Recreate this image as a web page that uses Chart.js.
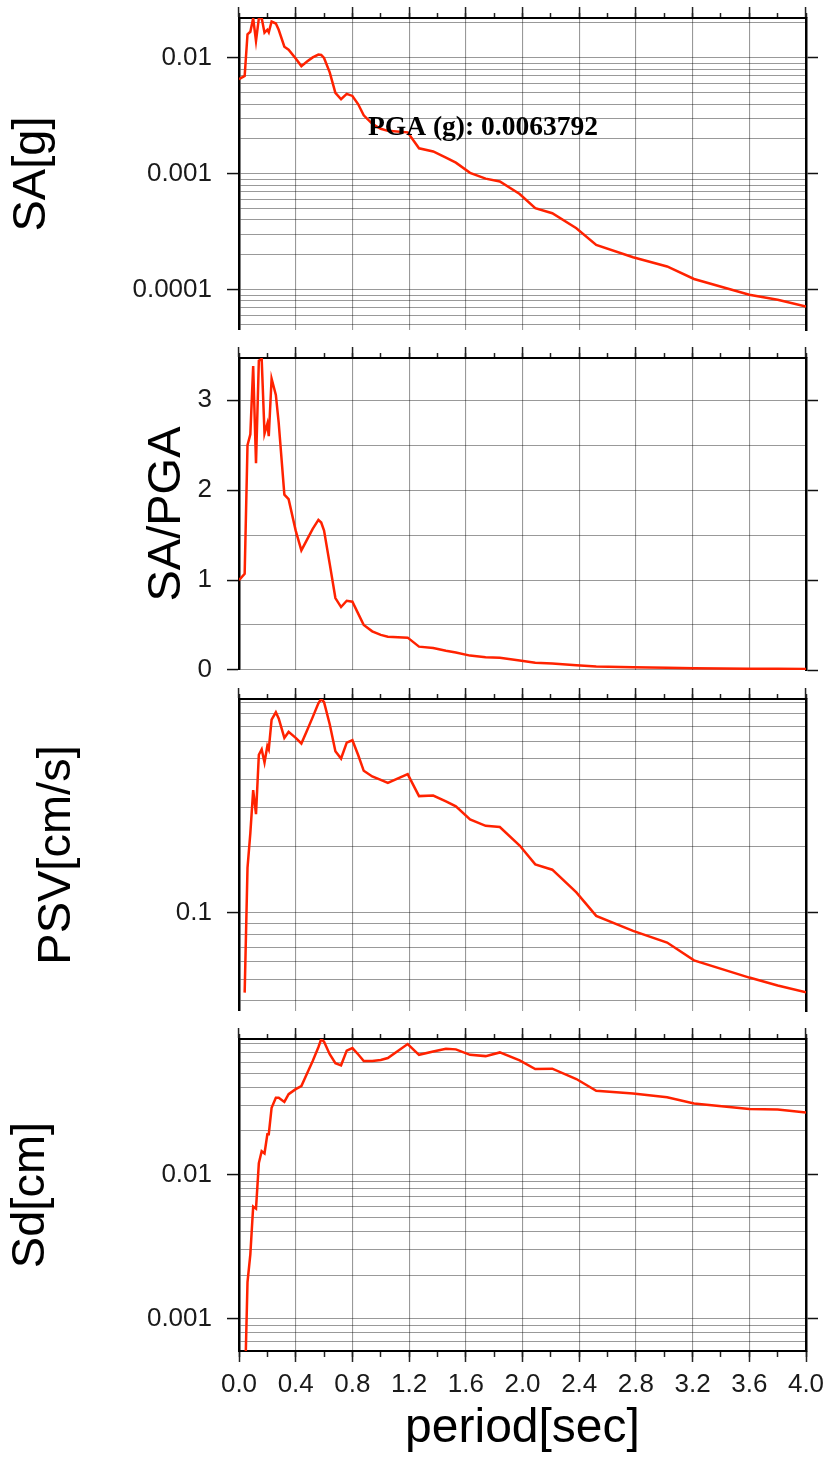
<!DOCTYPE html>
<html>
<head>
<meta charset="utf-8">
<script src="https://cdn.jsdelivr.net/npm/chart.js@4.4.1/dist/chart.umd.min.js"></script>
<style>
  body { margin: 0; background: #fff; width: 826px; height: 1459px; position: relative; overflow: hidden; }
  canvas { position: absolute; left: 0; }
</style>
</head>
<body>
<canvas id="c1" width="826" height="340" style="top:0px"></canvas>
<canvas id="c2" width="826" height="340" style="top:340px"></canvas>
<canvas id="c3" width="826" height="340" style="top:681px"></canvas>
<canvas id="c4" width="826" height="438" style="top:1021px"></canvas>
<script>
// periodos (s) y valores
const periods = [0, 0.04, 0.06, 0.08, 0.10, 0.12, 0.14, 0.16, 0.18, 0.20, 0.21, 0.23, 0.26, 0.28, 0.32, 0.35,
  0.40, 0.44, 0.48, 0.52, 0.56, 0.58, 0.60, 0.64, 0.68, 0.72, 0.76, 0.80, 0.84, 0.88, 0.94, 1.00, 1.05,
  1.19, 1.27, 1.37, 1.46, 1.53, 1.63, 1.74, 1.84, 1.98, 2.09, 2.21, 2.38, 2.52, 2.78, 3.02, 3.21, 3.60, 3.80, 4.00];

const saValues = [0.00655, 0.0070, 0.0160, 0.0168, 0.0220, 0.0140, 0.0219, 0.0221, 0.0165, 0.0175, 0.0166, 0.0206,
  0.0198, 0.0175, 0.0125, 0.0118, 0.0099, 0.0085, 0.0093, 0.0101, 0.0107, 0.0106, 0.0100, 0.0075, 0.0050, 0.0044,
  0.0049, 0.0047, 0.0040, 0.0032, 0.0027, 0.00245, 0.00235, 0.00228, 0.00166, 0.00156, 0.00138, 0.00125, 0.00102,
  0.00091, 0.00086, 0.00067, 0.000506, 0.000458, 0.00034, 0.000244, 0.000191, 0.000159, 0.000124, 0.0000906,
  0.000082, 0.0000718];

const saPgaValues = [1.0, 1.07, 2.5, 2.62, 3.38, 2.30, 3.44, 3.46, 2.63, 2.74, 2.60, 3.24, 3.06, 2.75, 1.95, 1.90,
  1.55, 1.33, 1.45, 1.57, 1.67, 1.64, 1.55, 1.18, 0.80, 0.70, 0.77, 0.76, 0.63, 0.50, 0.43, 0.39, 0.37, 0.36, 0.26,
  0.245, 0.215, 0.195, 0.16, 0.143, 0.135, 0.105, 0.08, 0.072, 0.053, 0.038, 0.030, 0.025, 0.019, 0.014, 0.013, 0.011];

const psvValues = [null, 0.0436, 0.16, 0.23, 0.36, 0.28, 0.52, 0.55, 0.48, 0.57, 0.55, 0.75, 0.81, 0.76, 0.62, 0.66,
  0.62, 0.585, 0.67, 0.77, 0.89, 0.93, 0.90, 0.715, 0.54, 0.50, 0.59, 0.605, 0.52, 0.44, 0.415, 0.40, 0.388, 0.425,
  0.338, 0.34, 0.32, 0.304, 0.265, 0.248, 0.245, 0.202, 0.166, 0.157, 0.124, 0.097, 0.083, 0.0735, 0.061, 0.051,
  0.047, 0.0438];

const sdValues = [null, 0.00028, 0.0018, 0.0028, 0.0060, 0.0058, 0.0120, 0.0145, 0.0140, 0.019, 0.019, 0.029, 0.034,
  0.034, 0.0318, 0.036, 0.039, 0.041, 0.050, 0.061, 0.076, 0.0865, 0.083, 0.068, 0.059, 0.057, 0.072, 0.075, 0.068,
  0.061, 0.061, 0.062, 0.064, 0.080, 0.0674, 0.0711, 0.0743, 0.0735, 0.0674, 0.066, 0.070, 0.0617, 0.0537, 0.054,
  0.0458, 0.038, 0.0363, 0.0342, 0.031, 0.0284, 0.0282, 0.0269];

// ticks
const xTicks = [0, 0.4, 0.8, 1.2, 1.6, 2.0, 2.4, 2.8, 3.2, 3.6, 4.0];
const xTickLabels = ['0.0', '0.4', '0.8', '1.2', '1.6', '2.0', '2.4', '2.8', '3.2', '3.6', '4.0'];
const xMinorTicks = [0, 0.2, 0.4, 0.6, 0.8, 1.0, 1.2, 1.4, 1.6, 1.8, 2.0, 2.2, 2.4, 2.6, 2.8, 3.0, 3.2, 3.4, 3.6, 3.8, 4.0];
const saTickLabels = ['0.01', '0.001', '0.0001'];
const saPgaGrid = [0, 0.5, 1, 1.5, 2, 2.5, 3];
const saPgaTickLabels = ['0', '1', '2', '3'];
const psvTickLabels = ['0.1'];
const sdTickLabels = ['0.01', '0.001'];
const pgaText = 'PGA (g): 0.0063792';

Chart.defaults.font.family = '"Liberation Sans", Arial, sans-serif';
const gridColor = 'rgba(0,0,0,0.4)';
const lineColor = '#ff2200';

// rejilla logaritmica 1..9 por decada
function logGrid(min, max) {
  const vals = [];
  for (let e = Math.floor(Math.log10(min)); e <= Math.ceil(Math.log10(max)); e++) {
    for (let m = 1; m <= 9; m++) {
      const v = m * Math.pow(10, e);
      if (v >= min && v <= max) vals.push(v);
    }
  }
  return vals;
}

function labelFor(labels, v) {
  const hit = labels.find(l => Math.abs(Number(l) - v) <= Math.abs(v) * 1e-6 + 1e-12);
  return hit === undefined ? '' : hit;
}

function setTicks(vals) {
  return s => { s.ticks = vals.map(v => ({ value: v })); };
}

function xAxis(position, major, height, weight, extra) {
  return Object.assign({
    type: 'linear', position: position, min: 0, max: 4, weight: weight,
    afterBuildTicks: setTicks(major ? xTicks : xMinorTicks),
    afterFit: s => { s.height = height; s.paddingLeft = 0; s.paddingRight = 0; },
    ticks: { display: false },
    grid: { drawOnChartArea: false, tickLength: major ? 11 : 5, tickColor: '#222', tickWidth: 1.5 },
    border: { display: false }
  }, extra || {});
}

function makePanel(id, values, cfg) {
  const yGrid = cfg.log ? logGrid(cfg.min, cfg.max) : cfg.grid;
  const tickCol = ctx => labelFor(cfg.labels, ctx.tick.value) !== '' ? '#111' : 'rgba(0,0,0,0)';
  const yBase = {
    type: cfg.log ? 'logarithmic' : 'linear', min: cfg.min, max: cfg.max,
    afterBuildTicks: setTicks(yGrid)
  };
  const scales = {
    x: xAxis('top', true, 18, 1, {
      grid: { drawOnChartArea: true, color: gridColor, lineWidth: 1.1, tickLength: 11, tickColor: '#222', tickWidth: 1.5 },
      border: { display: true, color: '#000', width: 2 }
    }),
    xm: xAxis('top', false, 0, 0),
    y: Object.assign({}, yBase, {
      position: 'left',
      afterFit: s => { s.width = 239; s.paddingTop = 0; s.paddingBottom = 0; },
      ticks: {
        autoSkip: false, padding: 15, color: '#1a1a1a', font: { size: 26 },
        callback: v => labelFor(cfg.labels, v)
      },
      grid: { color: gridColor, lineWidth: 1.1, tickLength: 12, tickColor: tickCol, tickWidth: 1.5 },
      border: { color: '#000', width: 2.5 },
      title: { display: true, text: cfg.title, color: '#000', font: { size: 47 }, padding: { top: cfg.titlePad, bottom: 0 } }
    }),
    yr: Object.assign({}, yBase, {
      position: 'right',
      afterFit: s => { s.width = 20; s.paddingTop = 0; s.paddingBottom = 0; },
      ticks: { display: false },
      grid: { drawOnChartArea: false, tickLength: 12, tickColor: tickCol, tickWidth: 1.5 },
      border: { color: '#000', width: 2.5 }
    })
  };
  if (cfg.bottom) {
    // eje inferior con etiquetas del periodo
    scales.xb = xAxis('bottom', true, 108, 1, {
      ticks: {
        display: true, autoSkip: false, maxRotation: 0, padding: 7, color: '#1a1a1a', font: { size: 26 },
        callback: (v, i) => xTickLabels[i]
      },
      border: { display: true, color: '#000', width: 2 },
      title: { display: true, text: 'period[sec]', color: '#000', font: { size: 48 }, padding: { top: 0, bottom: 1 } }
    });
    scales.xbm = xAxis('bottom', false, 0, 0, {
      grid: { drawOnChartArea: false, tickLength: 6, tickColor: '#222', tickWidth: 1.5 }
    });
  }
  return new Chart(document.getElementById(id), {
    type: 'line',
    data: {
      datasets: [{
        data: periods.map((p, i) => ({ x: p, y: values[i] })),
        borderColor: lineColor, borderWidth: 2.5, pointRadius: 0, tension: 0
      }]
    },
    options: {
      responsive: false, animation: false,
      layout: { padding: { top: 0, left: 0, right: 0, bottom: cfg.bottom ? 0 : 10 } },
      plugins: { legend: { display: false }, tooltip: { enabled: false } },
      scales: scales
    },
    plugins: cfg.plugins || []
  });
}

// texto del PGA en el primer panel
const pgaLabel = {
  id: 'pgaLabel',
  afterDatasetsDraw(chart) {
    const ctx = chart.ctx;
    ctx.save();
    ctx.font = 'bold 27.5px "Liberation Serif", "Times New Roman", serif';
    ctx.fillStyle = '#000';
    ctx.textBaseline = 'middle';
    ctx.fillText(pgaText, chart.scales.x.getPixelForValue(0.91), chart.scales.y.getPixelForValue(0.0025));
    ctx.restore();
  }
};

makePanel('c1', saValues, { log: true, min: 4.5e-5, max: 0.0221, labels: saTickLabels, title: 'SA[g]', titlePad: 4.3, plugins: [pgaLabel] });
makePanel('c2', saPgaValues, { log: false, min: 0, max: 3.47, grid: saPgaGrid, labels: saPgaTickLabels, title: 'SA/PGA', titlePad: 139 });
makePanel('c3', psvValues, { log: true, min: 0.036, max: 0.93, labels: psvTickLabels, title: 'PSV[cm/s]', titlePad: 29 });
makePanel('c4', sdValues, { log: true, min: 0.00061, max: 0.0867, labels: sdTickLabels, title: 'Sd[cm]', titlePad: 2.8, bottom: true });
</script>
</body>
</html>
